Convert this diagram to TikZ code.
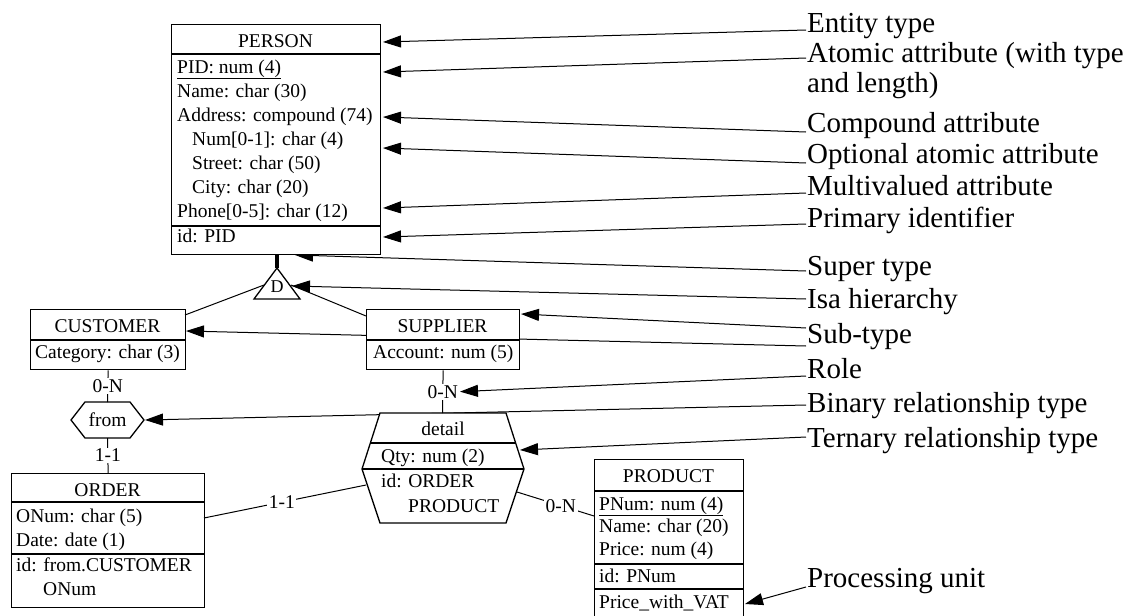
\documentclass[tikz,border=0pt]{standalone}
\usepackage{fontspec}
\setmainfont{Liberation Serif}
\usetikzlibrary{arrows.meta,backgrounds}
\newcommand\myid{id:\hspace{6.5pt}}
\begin{document}
\begin{tikzpicture}[x=1pt,y=-1pt,
  ebox/.style={draw,line width=1.3pt,fill=white,inner sep=0pt,anchor=north west},
  sepl/.style={line width=1.3pt},
  txt/.style={inner sep=0pt,anchor=base west,font=\fontsize{19.5}{24}\selectfont},
  ctxt/.style={inner sep=0pt,anchor=base,font=\fontsize{19.5}{24}\selectfont},
  card/.style={fill=white,inner sep=1.5pt,font=\fontsize{19.5}{24}\selectfont},
  lbl/.style={inner sep=0pt,anchor=base west,font=\fontsize{29}{30}\selectfont},
  arr/.style={line width=1pt,-{Triangle[length=18pt,width=12pt]}},
  conn/.style={line width=1pt}]
\useasboundingbox (0,0) rectangle (1133,616);

% ---------- entity boxes ----------
\node[ebox,minimum width=209pt,minimum height=230pt] (person) at (171,24) {};
\draw[sepl] (171,54) -- (380,54);
\draw[sepl] (171,226) -- (380,226);
\node[ctxt] (pT) at (275.5,47) {PERSON};
\node[txt] (p1) at (177,73) {\underline{PID: num (4)}};
\node[txt] (p2) at (177,97) {Name: char (30)};
\node[txt] (p3) at (177,121) {Address: compound (74)};
\node[txt] (p4) at (192,145) {Num[0-1]: char (4)};
\node[txt] (p5) at (192,169) {Street: char (50)};
\node[txt] (p6) at (192,193) {City: char (20)};
\node[txt] (p7) at (177,217) {Phone[0-5]: char (12)};
\node[txt] (p8) at (177,242) {\myid PID};

\node[ebox,minimum width=155pt,minimum height=60pt] (cust) at (30,309) {};
\draw[sepl] (30,340) -- (185,340);
\node[ctxt] (cT) at (107.5,332) {CUSTOMER};
\node[txt] (c1t) at (35,358) {Category: char (3)};

\node[ebox,minimum width=153pt,minimum height=60pt] (supp) at (366,309) {};
\draw[sepl] (366,340) -- (519,340);
\node[ctxt] (sT) at (442.5,332) {SUPPLIER};
\node[txt] (s1t) at (373,358) {Account: num (5)};

\node[ebox,minimum width=193pt,minimum height=134pt] (order) at (11,473) {};
\draw[sepl] (11,502) -- (204,502);
\draw[sepl] (11,554) -- (204,554);
\node[ctxt] (oT) at (107.5,496) {ORDER};
\node[txt] (o1) at (16,522) {ONum: char (5)};
\node[txt] (o2) at (16,546) {Date: date (1)};
\node[txt] (o3) at (16,571) {\myid from.CUSTOMER};
\node[txt] (o4) at (43,595) {ONum};

\node[ebox,minimum width=149pt,minimum height=175pt] (prod) at (594,459) {};
\draw[sepl] (594,491) -- (743,491);
\draw[sepl] (594,564) -- (743,564);
\draw[sepl] (594,589) -- (743,589);
\node[ctxt] (prT) at (668.5,482) {PRODUCT};
\node[txt] (pr1) at (599,510) {\underline{PNum: num (4)}};
\node[txt] (pr2) at (599,532) {Name: char (20)};
\node[txt] (pr3) at (599,555) {Price: num (4)};
\node[txt] (pr4) at (599,582) {\myid PNum};
\node[txt] (pr5) at (599,608) {Price\_with\_VAT};

% ---------- relationship types ----------
\draw[ebox] (85,402) -- (130,402) -- (144,420) -- (130,438) -- (85,438) -- (71,420) -- cycle;
\node[ctxt] (fT) at (107.5,426) {from};
\coordinate (fromT) at (107.5,402);
\coordinate (fromB) at (107.5,438);
\coordinate (fromR) at (145,420);

\draw[ebox] (380,413) -- (506,413) -- (524,469) -- (506,523) -- (380,523) -- (362,469) -- cycle;
\draw[sepl] (370.4,443) -- (515.6,443);
\draw[sepl] (362,469) -- (524,469);
\node[ctxt] (dT) at (443,435) {detail};
\node[txt] (d1) at (381,462) {Qty: num (2)};
\node[txt] (d2) at (381,487) {\myid ORDER};
\node[txt] (d3) at (408,512) {PRODUCT};
\coordinate (detT) at (442.5,413);
\coordinate (detL) at (366,485);
\coordinate (detR) at (517,492);

% ---------- is-a hierarchy ----------
\coordinate (isaTop) at (277,268);
\coordinate (personB) at (277,254);
\draw[line width=4.5pt] (personB) -- (isaTop);
\draw[ebox] (isaTop) -- (300,299) -- (254,299) -- cycle;
\node[ctxt,font=\fontsize{18}{20}\selectfont] (isaD) at (277,292) {D};
\coordinate (isaL) at (264,285);
\coordinate (isaR) at (291,285);
\coordinate (custTR) at (185,315);
\coordinate (suppTL) at (366,316);
\draw[conn] (isaL) -- (custTR);
\draw[conn] (isaR) -- (suppTL);

% ---------- roles ----------
\coordinate (ordR) at (204,518);
\coordinate (prodL) at (594,516);
\draw[conn] (cust.south) -- node[card] (r1) {0-N} (fromT);
\draw[conn] (fromB) -- node[card] (r2) {1-1} (order.north);
\draw[conn] (supp.south) -- node[card] (r3) {0-N} (detT);
\draw[conn] (ordR) -- node[card,pos=0.48] (r4) {1-1} (detL);
\draw[conn] (detR) -- node[card,pos=0.57] (r5) {0-N} (prodL);

% ---------- legend labels ----------
\node[lbl] (L1) at (807,32) {Entity type};
\node[lbl] (L2) at (807,62) {Atomic attribute (with type};
\node[lbl] (L2b) at (807,92) {and length)};
\node[lbl] (L3) at (807,132) {Compound attribute};
\node[lbl] (L4) at (807,163) {Optional atomic attribute};
\node[lbl] (L5) at (807,195) {Multivalued attribute};
\node[lbl] (L6) at (807,227) {Primary identifier};
\node[lbl] (L7) at (807,275) {Super type};
\node[lbl] (L8) at (807,308) {Isa hierarchy};
\node[lbl] (L9) at (807,343) {Sub-type};
\node[lbl] (L10) at (807,378) {Role};
\node[lbl] (L11) at (807,412) {Binary relationship type};
\node[lbl] (L12) at (807,447) {Ternary relationship type};
\node[lbl] (L13) at (807,587) {Processing unit};

\coordinate (s1) at (806,30);   \coordinate (t1) at (383,42);
\coordinate (s2) at (806,58);   \coordinate (t2) at (383,72);
\coordinate (s3) at (806,132);  \coordinate (t3) at (383,117);
\coordinate (s4) at (806,163);  \coordinate (t4) at (383,148);
\coordinate (s5) at (806,193);  \coordinate (t5) at (383,208);
\coordinate (s6) at (806,224);  \coordinate (t6) at (383,237);
\coordinate (s7) at (806,271);  \coordinate (t7) at (295,255);
\coordinate (s8) at (806,299);  \coordinate (t8) at (292,286);
\coordinate (s9) at (806,328);  \coordinate (t9) at (521,314);
\coordinate (s9b) at (806,346); \coordinate (t9b) at (186,331);
\coordinate (s10) at (806,376);
\coordinate (s11) at (806,405);
\coordinate (s12) at (806,437); \coordinate (t12) at (520,450);
\coordinate (s13) at (806,587); \coordinate (t13) at (745,604);

\begin{scope}[on background layer]
\draw[arr] (s1) -- (t1);
\draw[arr] (s2) -- (t2);
\draw[arr] (s3) -- (t3);
\draw[arr] (s4) -- (t4);
\draw[arr] (s5) -- (t5);
\draw[arr] (s6) -- (t6);
\draw[arr] (s7) -- (t7);
\draw[arr] (s8) -- (t8);
\draw[arr] (s9) -- (t9);
\draw[arr] (s9b) -- (t9b);
\draw[arr] (s10) -- (r3.east);
\draw[arr] (s11) -- (fromR);
\draw[arr] (s12) -- (t12);
\draw[arr] (s13) -- (t13);
\end{scope}
\end{tikzpicture}
\end{document}
